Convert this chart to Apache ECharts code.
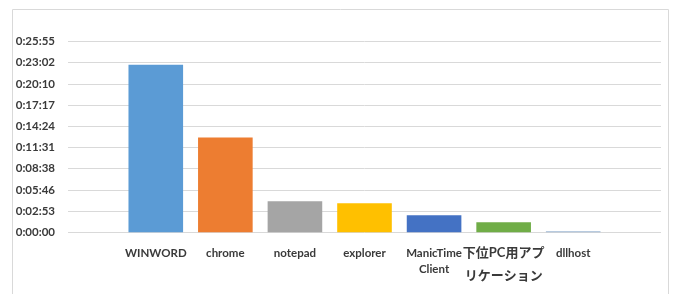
<!DOCTYPE html>
<html>
<head>
<meta charset="utf-8">
<script src="https://cdn.jsdelivr.net/npm/echarts@6/dist/echarts.min.js"></script>
<style>html,body{margin:0;padding:0;background:#fff;}#c{width:675px;height:294px;}</style>
</head>
<body>
<div id="c"></div>
<script>
const categories = ['WINWORD', 'chrome', 'notepad', 'explorer', 'ManicTime Client', '下位PC用アプリケーション', 'dllhost'];
// durations in seconds
const durations = [1365, 772, 253, 237, 139, 82, 8];
const barColors = ['#5B9BD5', '#ED7D31', '#A5A5A5', '#FFC000', '#4472C4', '#70AD47', '#9FB9D4'];
const yMin = 0, yMax = 1555.2, yStep = 172.8; // 0:00:00 .. 0:25:55, step 0:02:53

function fmtTime(v) {
  const s = Math.round(v);
  const h = Math.floor(s / 3600), m = Math.floor((s % 3600) / 60), sec = s % 60;
  return h + ':' + String(m).padStart(2, '0') + ':' + String(sec).padStart(2, '0');
}
function fmtCat(v) {
  if (v === 'ManicTime Client') return 'ManicTime\nClient';
  if (v === '下位PC用アプリケーション') return '{a|' + v.slice(0, 7) + '}\n{b|' + v.slice(7) + '}';
  return v;
}

const font = 'Lato, "Noto Sans CJK JP", sans-serif';
const gTop = 41.5, gH = 190.8;
const chart = echarts.init(document.getElementById('c'));
chart.setOption({
  animation: false,
  graphic: [{type: 'rect', shape: {x: 12.5, y: 9.5, width: 656, height: 300}, style: {fill: 'none', stroke: '#d9d9d9', lineWidth: 1}, silent: true}],
  grid: [
    {left: 68, width: 593, top: gTop, height: gH},
    {left: 121, width: 487, top: gTop, height: gH}
  ],
  xAxis: [
    {gridIndex: 0, type: 'category', data: [''], show: false},
    {gridIndex: 1, type: 'category', data: categories,
     axisLine: {show: false}, axisTick: {show: false},
     axisLabel: {interval: 0, margin: 13, color: '#3a3a3a', fontWeight: 'bold', fontSize: 11.5, fontFamily: font, lineHeight: 16,
       formatter: fmtCat,
       rich: {
         a: {fontSize: 13, lineHeight: 16, fontWeight: 'bold', color: '#3a3a3a', fontFamily: font},
         b: {fontSize: 13, lineHeight: 30, fontWeight: 'bold', color: '#3a3a3a', fontFamily: font}
       }}}
  ],
  yAxis: [
    {gridIndex: 0, type: 'value', min: yMin, max: yMax, interval: yStep,
     axisLine: {show: false}, axisTick: {show: false},
     splitLine: {lineStyle: {color: '#d9d9d9', width: 1}},
     axisLabel: {margin: 13, color: '#3a3a3a', fontWeight: 'bold', fontSize: 11.5, fontFamily: font, formatter: fmtTime}},
    {gridIndex: 1, type: 'value', min: yMin, max: yMax, interval: yStep, show: false, splitLine: {show: false}}
  ],
  series: [{
    type: 'bar', xAxisIndex: 1, yAxisIndex: 1,
    barCategoryGap: '21.5%',
    data: durations.map((v, i) => ({value: v, itemStyle: {color: barColors[i]}}))
  }]
});
</script>
</body>
</html>
